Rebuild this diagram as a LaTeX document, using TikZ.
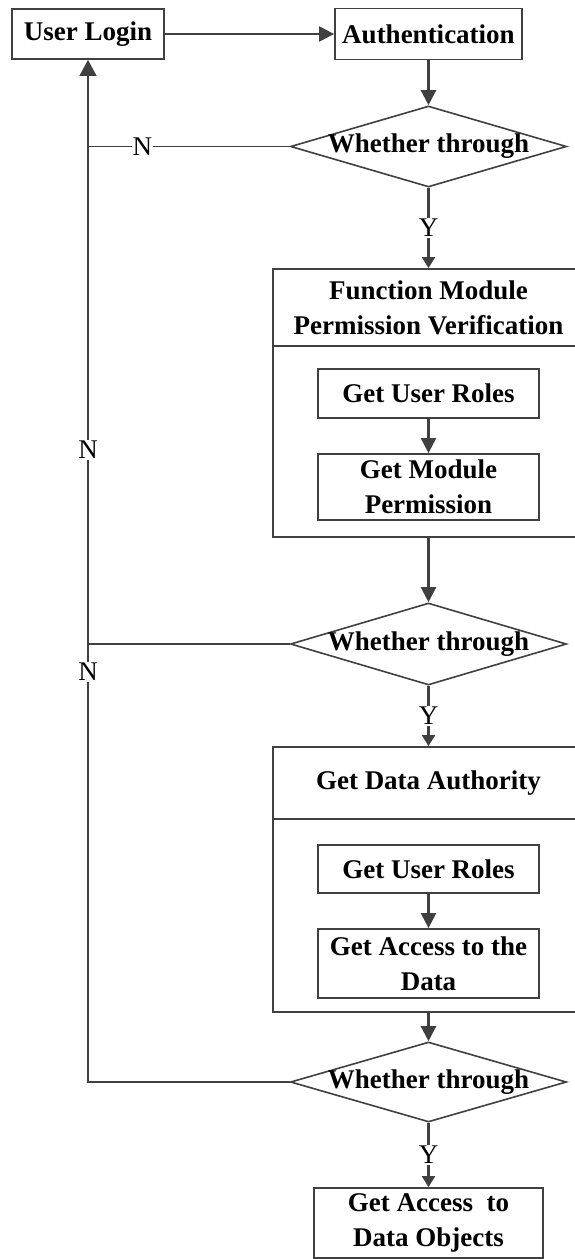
\documentclass[tikz,border=0pt]{standalone}
\usepackage{fontspec}
\setmainfont{Liberation Serif}
\usetikzlibrary{shapes.geometric,arrows.meta}
\definecolor{lc}{HTML}{404040}
\begin{document}
\begin{tikzpicture}[x=1pt,y=-1pt,
  every node/.style={font=\fontsize{27}{35}\selectfont\bfseries, align=center, inner sep=0pt},
  box/.style={draw=lc, line width=1.8pt, rectangle, fill=white},
  dia/.style={draw=lc, line width=1.6pt, diamond, minimum width=276, minimum height=81, inner sep=0pt, fill=white},
  flow/.style={draw=lc, line width=2.2pt, -{Triangle[length=15pt,width=15pt]}},
  yflow/.style={draw=lc, line width=2.2pt, -{Triangle[length=11pt,width=13pt]}},
  back/.style={draw=lc, line width=1.4pt},
  lbl/.style={font=\fontsize{27}{30}\selectfont, fill=white, inner sep=1pt}
]
\useasboundingbox (0,0) rectangle (574,1259);
\fill[white] (0,0) rectangle (574,1259);

% top row
\node[box, minimum width=152, minimum height=50] (login) at (88,34) {User Login};
\node[box, minimum width=187, minimum height=51] (auth) at (428.5,34) {Authentication};

% decision 1
\node[dia] (d1) at (428.5,146.5) {\makebox[0pt]{Whether through}};

% function module block
\node[box, minimum width=311, minimum height=77] (fmt) at (428.5,307.5) {Function Module\\Permission Verification};
\node[box, minimum width=311, minimum height=191] (fmb) at (428.5,441.5) {};
\node[box, minimum width=221, minimum height=49] (r1) at (428.5,393.5) {Get User Roles};
\node[box, minimum width=221, minimum height=66] (p1) at (428.5,487) {Get Module\\Permission};

% decision 2
\node[dia, minimum height=82] (d2) at (428.5,644) {\makebox[0pt]{Whether through}};

% data authority block
\node[box, minimum width=311, minimum height=72] (dat) at (428.5,783) {Get Data Authority};
\node[box, minimum width=311, minimum height=193] (dab) at (428.5,915.5) {};
\node[box, minimum width=221, minimum height=48] (r2) at (428.5,869) {Get User Roles};
\node[box, minimum width=221, minimum height=69] (a2) at (428.5,963.5) {Get Access to the\\Data};

% decision 3
\node[dia, minimum height=80] (d3) at (428.5,1082) {\makebox[0pt]{Whether through}};

% final
\node[box, minimum width=229, minimum height=70] (fin) at (428.5,1223) {Get Access~~to\\Data Objects};

% main flow
\draw[flow] (login) -- (auth);
\draw[flow] (auth) -- (d1);
\draw[yflow] (d1) -- node[lbl]{Y} (fmt);
\draw[flow] (r1) -- (p1);
\draw[flow] (fmb) -- (d2);
\draw[yflow] (d2) -- node[lbl]{Y} (dat);
\draw[flow] (r2) -- (a2);
\draw[flow] (dab) -- (d3);
\draw[yflow] (d3) -- node[lbl]{Y} (fin);

% feedback
\coordinate (c1) at (88,146.5);
\coordinate (c2) at (88,644);
\coordinate (c3) at (88,1082);
\draw[back] (d1.west) -- node[lbl,pos=0.73]{N} (c1);
\draw[back] (d2.west) -- (c2);
\draw[back,-{Triangle[length=16pt,width=17pt]}] (d3.west) -- (c3)
   -- node[lbl,pos=0.936]{N} (c2)
   -- node[lbl,pos=0.39]{N} (c1)
   -- (login.south);
\end{tikzpicture}
\end{document}
